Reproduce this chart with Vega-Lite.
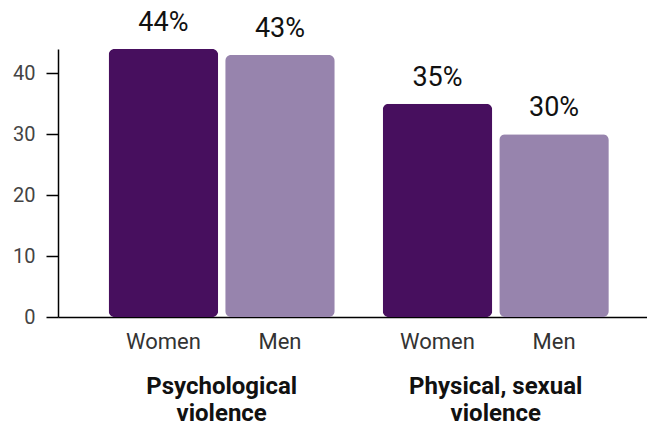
{
  "$schema": "https://vega.github.io/schema/vega-lite/v6.json",
  "width": 589,
  "height": 268,
  "autosize": {"type": "none"},
  "padding": {"left": 58, "top": 49, "right": 0, "bottom": 109},
  "background": "white",
  "config": {"view": {"stroke": null}, "font": "Roboto"},
  "data": {
    "values": [
      {"group": "Psychological\nviolence", "gender": "Women", "value": 44, "label": "44%"},
      {"group": "Psychological\nviolence", "gender": "Men", "value": 43, "label": "43%"},
      {"group": "Physical, sexual\nviolence", "gender": "Women", "value": 35, "label": "35%"},
      {"group": "Physical, sexual\nviolence", "gender": "Men", "value": 30, "label": "30%"}
    ]
  },
  "encoding": {
    "x": {
      "field": "group",
      "type": "nominal",
      "sort": null,
      "scale": {"paddingInner": 0.175, "paddingOuter": 0.162, "align": 0.57},
      "axis": {"title": null, "labels": false, "ticks": false, "domainColor": "#000000", "domainWidth": 1.5}
    }
  },
  "layer": [
    {
      "mark": {"type": "bar", "cornerRadius": 6},
      "encoding": {
        "xOffset": {"field": "gender", "type": "nominal", "sort": ["Women", "Men"], "scale": {"paddingInner": 0.06, "paddingOuter": 0}},
        "y": {
          "field": "value",
          "type": "quantitative",
          "scale": {"domain": [0, 44], "nice": false},
          "axis": {
            "title": null,
            "values": [0, 10, 20, 30, 40],
            "grid": false,
            "labelFontSize": 20,
            "labelColor": "#444444",
            "labelPadding": 11,
            "tickSize": 12,
            "tickColor": "#000000",
            "tickWidth": 1.5,
            "domainColor": "#000000",
            "domainWidth": 1.5
          }
        },
        "color": {
          "field": "gender",
          "type": "nominal",
          "scale": {"domain": ["Women", "Men"], "range": ["#470F5E", "#9784AD"]},
          "legend": null
        }
      }
    },
    {
      "mark": {"type": "text", "baseline": "alphabetic", "dy": -18, "fontSize": 27, "color": "#111111"},
      "encoding": {
        "xOffset": {"field": "gender", "type": "nominal", "sort": ["Women", "Men"], "scale": {"paddingInner": 0.06, "paddingOuter": 0}},
        "y": {"field": "value", "type": "quantitative"},
        "text": {"field": "label"}
      }
    },
    {
      "mark": {"type": "text", "baseline": "middle", "dy": 25, "fontSize": 22, "color": "#333333"},
      "encoding": {
        "xOffset": {"field": "gender", "type": "nominal", "sort": ["Women", "Men"], "scale": {"paddingInner": 0.06, "paddingOuter": 0}},
        "y": {"datum": 0},
        "text": {"field": "gender"}
      }
    },
    {
      "transform": [{"filter": "datum.gender === 'Women'"}],
      "mark": {"type": "text", "baseline": "alphabetic", "dy": 77, "fontSize": 24, "fontWeight": "bold", "lineBreak": "\n", "lineHeight": 27, "color": "#111111"},
      "encoding": {
        "y": {"datum": 0},
        "text": {"field": "group"}
      }
    }
  ]
}
